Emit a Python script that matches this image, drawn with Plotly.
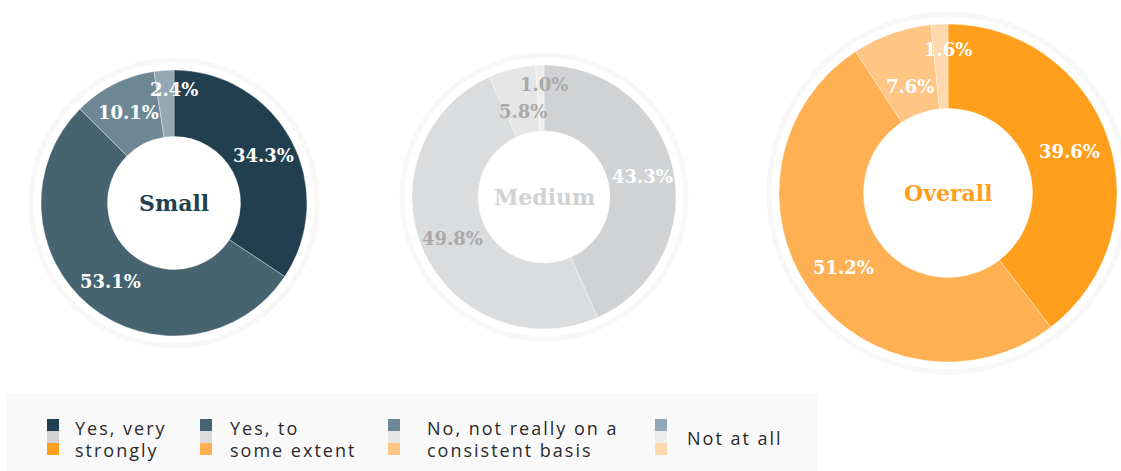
import math
import plotly.graph_objects as go

W, H = 1121, 471

# ---- data ----
categories = ["Yes, very strongly", "Yes, to some extent",
              "No, not really on a consistent basis", "Not at all"]
legend_lines = [["Yes, very", "strongly"], ["Yes, to", "some extent"],
                ["No, not really on a", "consistent basis"], ["Not at all"]]
groups = ["Small", "Medium", "Overall"]
small_vals = [34.3, 53.1, 10.1, 2.4]
medium_vals = [43.3, 49.8, 5.8, 1.0]
overall_vals = [39.6, 51.2, 7.6, 1.6]

# ---- styles ----
small_colors = ["#213f4e", "#46636f", "#6e8794", "#93a8b4"]
medium_colors = ["#d1d2d4", "#dbdcdd", "#e6e6e7", "#ededee"]
overall_colors = ["#ff9f1c", "#ffb052", "#ffc585", "#ffd9ad"]
title_colors = ["#213f4e", "#d1d2d4", "#ff9f1c"]
label_colors = [["white"] * 4, ["white", "#a9a9a9", "#a9a9a9", "#a9a9a9"], ["white"] * 4]
geoms = [(174, 203, 133), (544, 197, 132), (948, 193, 169)]  # center x, center y, radius (px)

all_vals = [small_vals, medium_vals, overall_vals]
all_colors = [small_colors, medium_colors, overall_colors]

fig = go.Figure()
shapes = []
annotations = []

SERIF = "DejaVu Serif"

for gi, (name, vals, cols, (cx, cy, r)) in enumerate(zip(groups, all_vals, all_colors, geoms)):
    fig.add_trace(go.Pie(
        values=vals, labels=categories,
        marker=dict(colors=cols, line=dict(color="rgba(255,255,255,0.6)", width=0.6)),
        hole=0.5, sort=False, direction="clockwise", rotation=0,
        textinfo="none", hoverinfo="label+value", showlegend=False,
        domain=dict(x=[(cx - r) / W, (cx + r) / W], y=[1 - (cy + r) / H, 1 - (cy - r) / H]),
    ))
    # faint outer ring
    rr = r + 10
    shapes.append(dict(type="circle", xref="paper", yref="paper",
                       x0=(cx - rr) / W, x1=(cx + rr) / W, y0=1 - (cy + rr) / H, y1=1 - (cy - rr) / H,
                       line=dict(color="#f7f7f7", width=5), fillcolor="rgba(0,0,0,0)", layer="below"))
    # centre title
    annotations.append(dict(x=cx / W, y=1 - cy / H, xref="paper", yref="paper", text="<b>%s</b>" % name,
                            showarrow=False, font=dict(family=SERIF, size=22, color=title_colors[gi]),
                            xanchor="center", yanchor="middle"))
    # slice labels (placed at slice mid-angle; tiny slices pushed out to the top)
    total = sum(vals)
    cum = 0
    for vi, v in enumerate(vals):
        mid = (cum + v / 2) / total * 2 * math.pi
        cum += v
        if v < 3:
            frac, ang = 0.85, 0.0
        elif v < 10:
            frac, ang = 0.67, mid
        else:
            frac, ang = 0.76, mid
        lx = cx + frac * r * math.sin(ang)
        ly = cy - frac * r * math.cos(ang)
        annotations.append(dict(x=lx / W, y=1 - ly / H, xref="paper", yref="paper",
                                text="<b>%.1f%%</b>" % v, showarrow=False,
                                font=dict(family=SERIF, size=18, color=label_colors[gi][vi]),
                                xanchor="center", yanchor="middle"))

# ---- legend box ----
shapes.append(dict(type="rect", xref="paper", yref="paper", x0=7 / W, x1=817 / W, y0=1 - 471 / H, y1=1 - 393 / H,
                   fillcolor="#f9f9f9", line=dict(width=0), layer="below"))
sq_x = [47, 200, 388, 655]
txt_x = [73, 228, 425, 685]
for i in range(4):
    for j, cols in enumerate(all_colors):
        y0 = 419 + 12 * j
        shapes.append(dict(type="rect", xref="paper", yref="paper",
                           x0=sq_x[i] / W, x1=(sq_x[i] + 12) / W, y0=1 - (y0 + 12) / H, y1=1 - y0 / H,
                           fillcolor=cols[i], line=dict(width=0)))
    lines = legend_lines[i]
    ys = [428, 449.5] if len(lines) == 2 else [438]
    for line, yy in zip(lines, ys):
        annotations.append(dict(x=txt_x[i] / W, y=1 - yy / H, xref="paper", yref="paper",
                                text='<span style="letter-spacing:2px">%s</span>' % line, showarrow=False,
                                font=dict(family="Open Sans", size=18, color="#2a2a2a"),
                                xanchor="left", yanchor="middle"))

fig.update_layout(width=W, height=H, margin=dict(l=0, r=0, t=0, b=0),
                  paper_bgcolor="white", plot_bgcolor="white",
                  shapes=shapes, annotations=annotations)

fig.write_html("out.html")
